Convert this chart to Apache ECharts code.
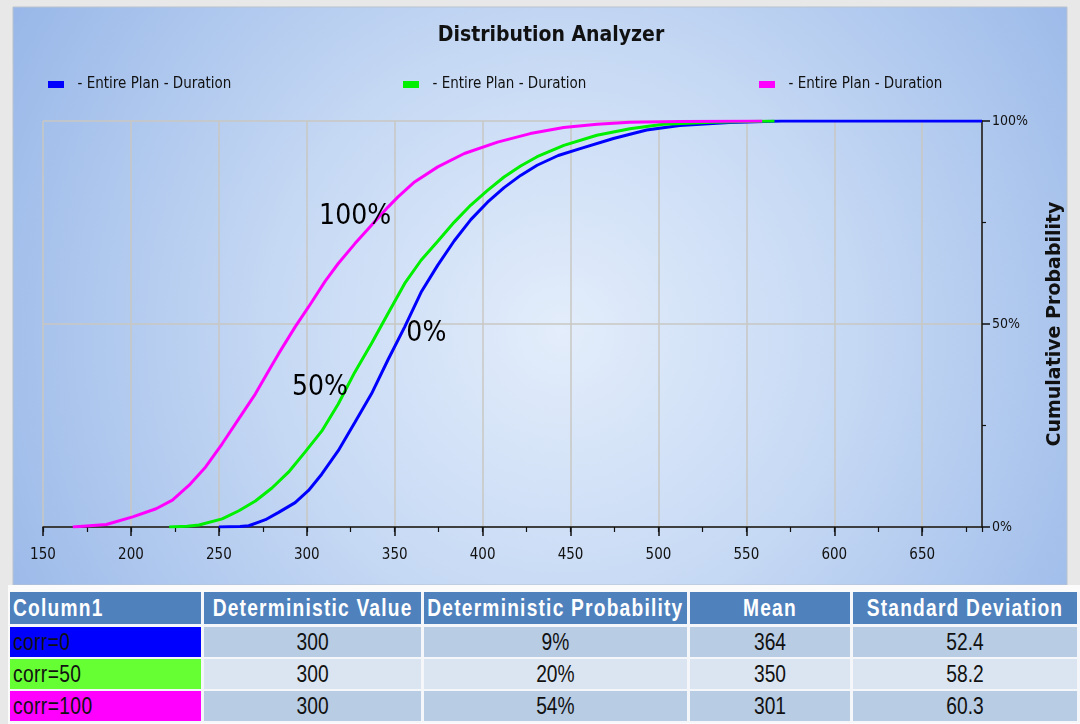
<!DOCTYPE html>
<html>
<head>
<meta charset="utf-8">
<script src="https://cdn.jsdelivr.net/npm/echarts/dist/echarts.min.js"></script>
<style>
html,body{margin:0;padding:0;width:1080px;height:724px;overflow:hidden;background:#e8e8e8;}
#chart{position:absolute;left:0;top:0;width:1080px;height:724px;}
#under{position:absolute;left:8px;top:585px;width:1072px;height:139px;background:#fbfbfb;}
#tbl{position:absolute;left:10px;top:592px;width:1070px;border-collapse:separate;border-spacing:0;table-layout:fixed;}
#tbl th,#tbl td{box-sizing:border-box;padding:0;border-right:3px solid #f4f6fa;white-space:nowrap;overflow:hidden;
  font-family:'Liberation Sans','Arial',sans-serif;color:#111;}
#tbl th{background:#4f81bd;color:#fff;font-weight:bold;font-size:24px;letter-spacing:1.5px;height:33px;line-height:32px;border-bottom:3px solid #f4f6fa;}
#tbl td{font-size:24px;height:32px;line-height:30px;border-bottom:2px solid #f4f6fa;}
#tbl .in{width:125%;margin-left:-12.5%;text-align:center;transform:scaleX(0.8);transform-origin:50% 50%;}
#tbl th:first-child .in,#tbl td:first-child .in{margin-left:3px;text-align:left;transform-origin:0 50%;}
#tbl td:first-child .in{letter-spacing:0.5px;}
</style>
</head>
<body>
<div id="chart"></div>
<div id="under"></div>
<table id="tbl"></table>
<script>
// ---------- data ----------
const titleText = 'Distribution Analyzer';
const legendText = '- Entire Plan - Duration';
const seriesNames = ['corr=0', 'corr=50', 'corr=100'];
const seriesColors = ['#0000ff', '#00f000', '#ff00ff'];

// corr=0 (blue) cumulative curve
const blueX = [250, 262, 267, 272.7, 276.5, 284, 293.4, 301, 308.5, 317.9, 327.4, 336.8, 346.2, 355.7, 365, 374.5, 383.9, 393.3, 402.8, 412.2, 421.6, 431, 443, 455.5, 474.4, 493.3, 512.1, 540.4, 570, 684];
const blueP = [0, 0.001, 0.003, 0.012, 0.018, 0.036, 0.060, 0.090, 0.130, 0.188, 0.258, 0.328, 0.412, 0.493, 0.578, 0.645, 0.705, 0.757, 0.800, 0.836, 0.866, 0.891, 0.915, 0.932, 0.957, 0.978, 0.989, 0.996, 1.0, 1.0];

// corr=50 (green) cumulative curve
const greenX = [221.8, 232, 238.7, 251.9, 261.4, 270.8, 280.2, 289.6, 299.1, 308.5, 317.9, 327.4, 336.8, 346.2, 355.7, 365, 374.5, 383.9, 393.3, 402.8, 412.2, 421.6, 431, 446.2, 465, 483.8, 502.7, 530, 566];
const greenP = [0, 0.002, 0.005, 0.020, 0.040, 0.064, 0.096, 0.135, 0.185, 0.236, 0.303, 0.382, 0.452, 0.526, 0.600, 0.657, 0.704, 0.751, 0.793, 0.829, 0.862, 0.889, 0.912, 0.940, 0.965, 0.981, 0.992, 0.997, 1.0];

// corr=100 (magenta) cumulative curve
const magX = [166.9, 186, 201, 214.3, 223.6, 233.1, 242.5, 251.9, 261.4, 270.8, 279, 284, 293.4, 301, 310.4, 317.9, 327.4, 336.8, 346.2, 351.9, 361.3, 374.5, 389.6, 408.5, 427.1, 446.1, 465.1, 483.7, 512, 559];
const magP = [0, 0.006, 0.025, 0.045, 0.066, 0.103, 0.148, 0.205, 0.267, 0.328, 0.39, 0.427, 0.493, 0.542, 0.605, 0.649, 0.698, 0.743, 0.788, 0.813, 0.850, 0.887, 0.920, 0.948, 0.969, 0.984, 0.992, 0.997, 0.999, 1.0];

// in-chart annotations
const annotText = ['100%', '50%', '0%'];
const annotX = [327.5, 307.5, 368.0];
const annotY = [0.765, 0.343, 0.475];

// axis
const xMin = 150, xMax = 684, xStep = 50, xMinorStep = 25;
const yName = 'Cumulative Probability';

// table
const tableHeaders = ['Column1', 'Deterministic Value', 'Deterministic Probability', 'Mean', 'Standard Deviation'];
const rowLabels = ['corr=0', 'corr=50', 'corr=100'];
const detValues = ['300', '300', '300'];
const detProbs = ['9%', '20%', '54%'];
const means = ['364', '350', '301'];
const stdDevs = ['52.4', '58.2', '60.3'];
const rowLabelColors = ['#0000ff', '#66ff33', '#ff00ff'];
const rowFills = ['#b8cce4', '#dbe5f1', '#b8cce4'];

// ---------- table ----------
const colWidths = [194, 220, 266, 163, 227];
(function buildTable(){
  const t = document.getElementById('tbl');
  const sp = s => '<div class="in">' + s + '</div>';
  let h = '<colgroup>' + colWidths.map(w => '<col style="width:' + w + 'px">').join('') + '</colgroup>';
  h += '<tr>' + tableHeaders.map(x => '<th>' + sp(x) + '</th>').join('') + '</tr>';
  for (let i = 0; i < rowLabels.length; i++) {
    const cells = [detValues[i], detProbs[i], means[i], stdDevs[i]];
    h += '<tr><td style="background:' + rowLabelColors[i] + '">' + sp(rowLabels[i]) + '</td>' +
      cells.map(c => '<td style="background:' + rowFills[i] + '">' + sp(c) + '</td>').join('') + '</tr>';
  }
  t.innerHTML = h;
})();

// ---------- chart ----------
const pairs = (xs, ps) => xs.map((x, i) => [x, ps[i]]);
const curves = [pairs(blueX, blueP), pairs(greenX, greenP), pairs(magX, magP)];
const cond = "'DejaVu Sans Condensed','DejaVu Sans',sans-serif";
const gridColor = '#c9c7c2';

const chart = echarts.init(document.getElementById('chart'), null, {renderer: 'canvas'});
const legendLefts = [48, 403, 759];
const option = {
  animation: false,
  backgroundColor: 'transparent',
  graphic: [{
    type: 'rect', z: -10, silent: true,
    shape: {x: 13, y: 7, width: 1054, height: 578},
    style: {
      fill: {type: 'radial', x: 0.52, y: 0.56, r: 1.1,
        colorStops: [{offset: 0, color: '#e3edfb'}, {offset: 0.45, color: '#c6d9f4'}, {offset: 1, color: '#98b7e8'}]},
      stroke: '#b9c3d0', lineWidth: 1
    }
  }],
  title: {
    text: titleText, left: 546, top: 20, textAlign: 'center',
    textStyle: {fontFamily: cond, fontWeight: 'bold', fontSize: 21, color: '#111'}
  },
  legend: seriesNames.map((n, i) => ({
    data: [n], left: legendLefts[i], top: 77, padding: 0, icon: 'rect', itemWidth: 16, itemHeight: 7,
    selectedMode: false, formatter: () => '  ' + legendText,
    textStyle: {fontFamily: cond, fontSize: 15, color: '#111'}
  })),
  grid: {left: 43, right: 98, top: 121, bottom: 197, containLabel: false},
  xAxis: [{
    type: 'value', min: xMin, max: xMax, interval: xStep,
    axisLine: {show: true, onZero: false, lineStyle: {color: '#111', width: 1.5}},
    axisTick: {show: true, inside: false, length: 9, lineStyle: {color: '#111', width: 1.5}},
    axisLabel: {margin: 21, fontFamily: cond, fontSize: 15, color: '#111', showMaxLabel: false},
    splitLine: {show: true, lineStyle: {color: gridColor, width: 1.5}}
  }, {
    type: 'value', min: xMin, max: xMax, interval: xMinorStep, position: 'bottom',
    axisLine: {show: false},
    axisTick: {show: true, inside: false, length: 5, lineStyle: {color: '#111', width: 1.2}},
    axisLabel: {show: false}, splitLine: {show: false}
  }],
  yAxis: {
    type: 'value', min: 0, max: 1, interval: 0.5, position: 'right',
    name: yName, nameLocation: 'middle', nameGap: 64, nameRotate: 90,
    nameTextStyle: {fontFamily: "'DejaVu Sans',sans-serif", fontWeight: 'bold', fontSize: 19, color: '#111'},
    axisLine: {show: true, lineStyle: {color: '#111', width: 1.5}},
    axisTick: {show: true, inside: false, length: 8, lineStyle: {color: '#111', width: 1.5}},
    minorTick: {show: true, splitNumber: 2, length: 4, lineStyle: {color: '#111', width: 1.2}},
    axisLabel: {margin: 10, fontFamily: cond, fontSize: 14, color: '#111', formatter: v => Math.round(v * 100) + '%'},
    splitLine: {show: true, lineStyle: {color: gridColor, width: 1.5}}
  },
  series: seriesNames.map((n, i) => ({
    name: n, type: 'line', data: curves[i], showSymbol: false, symbol: 'none',
    lineStyle: {color: seriesColors[i], width: 3}, itemStyle: {color: seriesColors[i]},
    z: 3 + i
  })).concat([{
    type: 'scatter', name: 'annot', symbolSize: 2, itemStyle: {color: 'rgba(0,0,0,0)'}, silent: true, z: 10,
    data: annotText.map((t, i) => ({value: [annotX[i], annotY[i]], label: {formatter: t}})),
    label: {show: true, position: 'inside', fontFamily: cond, fontSize: 28, color: '#000', opacity: 1}
  }])
};
chart.setOption(option);
</script>
</body>
</html>
